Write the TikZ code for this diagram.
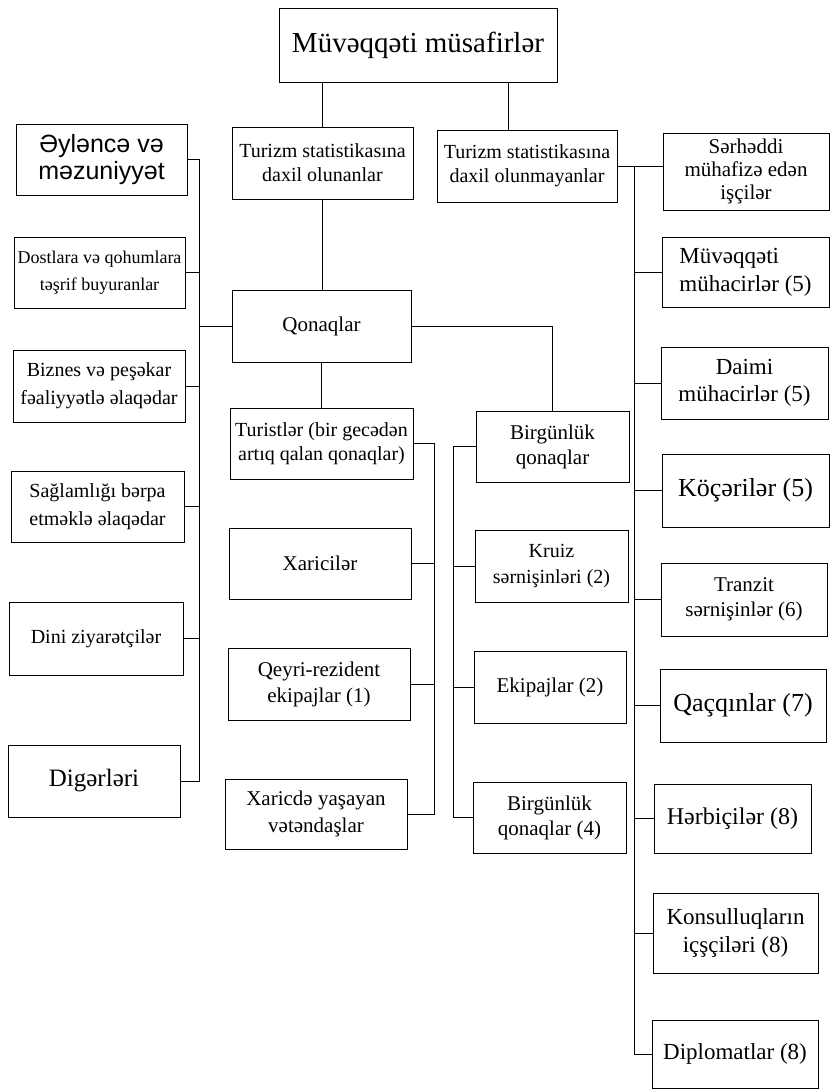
\documentclass[tikz,border=0pt]{standalone}
\usepackage{fontspec}
\setmainfont{Liberation Serif}
\newfontfamily\arialfont{Liberation Sans}
\begin{document}
\begin{tikzpicture}[x=1pt,y=-1pt,
    box/.style={draw,line width=1pt,inner sep=1pt,align=center},
    dims/.style 2 args={minimum width=#1pt,minimum height=#2pt},
    txt/.style 2 args={font=\fontsize{#1}{#2}\selectfont},
    link/.style={line width=1pt}]
  \useasboundingbox (0,0) rectangle (831,1092);
  \node[box,dims={278}{74},txt={29}{34}] (top) at (418,45) {Müvəqqəti müsafirlər};
  \node[box,dims={181}{72},txt={20}{24}] (daxil) at (322.5,163) {Turizm statistikasına\\daxil olunanlar};
  \node[box,dims={180}{72},txt={20}{24}] (xaric) at (527,166) {Turizm statistikasına\\daxil olunmayanlar};
  \node[box,dims={171}{71},font={\arialfont\fontsize{25}{27}\selectfont}] (eylence) at (101.5,159.5) {Əyləncə və\\ məzuniyyət};
  \node[box,dims={171}{71},txt={18}{27}] (dost) at (99.5,272.5) {Dostlara və qohumlara\\təşrif buyuranlar};
  \node[box,dims={172}{72},txt={20}{28}] (biznes) at (99,386) {Biznes və peşəkar\\fəaliyyətlə əlaqədar};
  \node[box,dims={173}{71},txt={20}{28}] (saglam) at (97.5,506.5) {Sağlamlığı bərpa\\etməklə əlaqədar};
  \node[box,dims={174}{73},txt={20}{24}] (dini) at (96,638.5) {Dini ziyarətçilər};
  \node[box,dims={172}{72},txt={25}{30}] (diger) at (94,781) {Digərləri};
  \node[box,dims={179}{72},txt={21}{25}] (qonaq) at (321.5,326) {Qonaqlar};
  \node[box,dims={183}{71},txt={20}{24}] (turist) at (321.5,443.5) {Turistlər (bir gecədən\\artıq qalan qonaqlar)};
  \node[box,dims={182}{71},txt={21}{25}] (xarici) at (320,563.5) {Xaricilər};
  \node[box,dims={182}{72},txt={21}{26}] (qeyri) at (319,684) {Qeyri-rezident\\ekipajlar (1)};
  \node[box,dims={182}{70},txt={21}{27}] (vetendas) at (316,814) {Xaricdə yaşayan\\vətəndaşlar};
  \node[box,dims={153}{71},txt={21}{25}] (birgun) at (552.5,446.5) {Birgünlük\\qonaqlar};
  \node[box,dims={153}{72},txt={20}{27}] (kruiz) at (551.5,566) {Kruiz\\sərnişinləri (2)};
  \node[box,dims={152}{72},txt={21}{25}] (ekipaj) at (550,687) {Ekipajlar (2)};
  \node[box,dims={153}{71},txt={21}{25}] (birgunf) at (549.5,817.5) {Birgünlük\\qonaqlar (4)};
  \node[box,dims={166}{77},txt={21}{23}] (serhed) at (746,171.5) {Sərhəddi\\mühafizə edən\\işçilər};
  \node[box,dims={167}{70},txt={23}{28},align=left] (muvmuh) at (745.5,272) {Müvəqqəti\\mühacirlər (5)};
  \node[box,dims={167}{72},txt={23}{27}] (daimi) at (744.5,383) {Daimi\\mühacirlər (5)};
  \node[box,dims={167}{73},txt={26}{30}] (kocer) at (745.5,490.5) {Köçərilər (5)};
  \node[box,dims={166}{73},txt={21}{25}] (tranzit) at (744,599.5) {Tranzit\\sərnişinlər (6)};
  \node[box,dims={166}{73},txt={26}{30}] (qacqin) at (743,705.5) {Qaçqınlar (7)};
  \node[box,dims={157}{69},txt={24}{28}] (herbi) at (732.5,818.5) {Hərbiçilər (8)};
  \node[box,dims={165}{80},txt={23}{28}] (konsul) at (735.5,933) {Konsulluqların\\içşçiləri (8)};
  \node[box,dims={166}{68},txt={23}{28}] (diplom) at (735,1054) {Diplomatlar (8)};
  \coordinate (lbus) at (199,0);
  \coordinate (tbus) at (434,0);
  \coordinate (bbus) at (453,0);
  \coordinate (rbus) at (634,0);
  \begin{scope}[link]
    \draw (daxil.north) -- (daxil.north |- top.south);
    \draw ([xshift=90pt]top.south) -- ([xshift=90pt]top.south |- xaric.north);
    \draw (daxil.south) -- (daxil.south |- qonaq.north);
    \draw (qonaq.south) -- (qonaq.south |- turist.north);
    \draw (qonaq.east) -| (birgun.north);
    \draw (eylence.east) -- (eylence.east -| lbus) -- (diger.east -| lbus) -- (diger.east);
    \foreach \n/\s in {dost/east,biznes/east,saglam/east,dini/east,qonaq/west}
      \draw (\n.\s) -- (\n.\s -| lbus);
    \draw (turist.east) -- (turist.east -| tbus) -- (vetendas.east -| tbus) -- (vetendas.east);
    \foreach \n in {xarici,qeyri}
      \draw (\n.east) -- (\n.east -| tbus);
    \draw (birgun.west) -- (birgun.west -| bbus) -- (birgunf.west -| bbus) -- (birgunf.west);
    \foreach \n in {kruiz,ekipaj}
      \draw (\n.west) -- (\n.west -| bbus);
    \draw (xaric.east) -- (xaric.east -| serhed.west);
    \draw (xaric.east -| rbus) -- (diplom.west -| rbus) -- (diplom.west);
    \foreach \n in {muvmuh,daimi,kocer,tranzit,qacqin,herbi,konsul}
      \draw (\n.west) -- (\n.west -| rbus);
  \end{scope}
\end{tikzpicture}
\end{document}
